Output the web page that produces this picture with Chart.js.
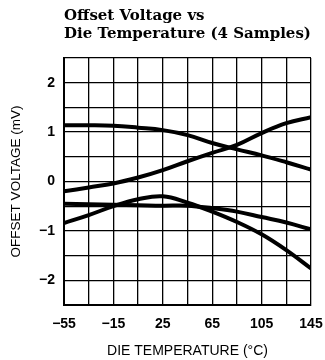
<!DOCTYPE html>
<html>
<head>
<meta charset="utf-8">
<script src="https://cdn.jsdelivr.net/npm/chart.js@4/dist/chart.umd.min.js"></script>
<style>
html,body{margin:0;padding:0;background:#fff;}
#wrap{position:relative;width:325px;height:360px;}
</style>
</head>
<body>
<div id="wrap"><canvas id="c" width="325" height="360"></canvas></div>
<script>
// ---- data ----
const titleLines = ['Offset Voltage vs', 'Die Temperature (4 Samples)'];
const xTitle = 'DIE TEMPERATURE (°C)';
const yTitle = 'OFFSET VOLTAGE (mV)';
const temps = [-55, -35, -15, 5, 25, 45, 65, 85, 105, 125, 145];
const sampleA = [1.14, 1.14, 1.13, 1.09, 1.04, 0.94, 0.78, 0.65, 0.53, 0.39, 0.24];
const sampleB = [-0.20, -0.12, -0.04, 0.08, 0.23, 0.41, 0.58, 0.74, 0.98, 1.18, 1.30];
const sampleC = [-0.84, -0.68, -0.50, -0.36, -0.30, -0.43, -0.61, -0.82, -1.07, -1.39, -1.76];
const sampleD = [-0.45, -0.46, -0.47, -0.48, -0.49, -0.49, -0.54, -0.61, -0.72, -0.83, -0.97];
const xGridValues = [-55, -35, -15, 5, 25, 45, 65, 85, 105, 125, 145];
const xTickLabels = [-55, -15, 25, 65, 105, 145];
const yGridValues = [-2.5, -2, -1.5, -1, -0.5, 0, 0.5, 1, 1.5, 2, 2.5];
const yTickLabels = [-2, -1, 0, 1, 2];

const fmt = v => String(v).replace('-', '\u2212');
const mk = arr => temps.map((t, i) => ({x: t, y: arr[i]}));

const titlePlugin = {
  id: 'titleLeft',
  afterDraw(chart) {
    const ctx = chart.ctx;
    ctx.save();
    ctx.fillStyle = '#000';
    ctx.font = 'bold 15px "DejaVu Serif", serif';
    ctx.textBaseline = 'alphabetic';
    ctx.textAlign = 'left';
    ctx.fillText(titleLines[0], chart.chartArea.left, 20);
    ctx.fillText(titleLines[1], chart.chartArea.left, 38);
    ctx.restore();
  }
};

const ds = (d) => ({
  data: mk(d), borderColor: '#000', borderWidth: 4, pointRadius: 0,
  tension: 0.4, fill: false
});

new Chart(document.getElementById('c'), {
  type: 'line',
  data: { datasets: [ds(sampleA), ds(sampleB), ds(sampleC), ds(sampleD)] },
  options: {
    responsive: false, animation: false,
    layout: { padding: { top: 58, right: 0, left: 0, bottom: 0 } },
    plugins: { legend: { display: false }, tooltip: { enabled: false } },
    scales: {
      x: {
        type: 'linear', min: -55, max: 145,
        afterBuildTicks: s => { s.ticks = xGridValues.map(v => ({value: v})); },
        afterFit: s => { s.height = 55; s.paddingRight = 14; },
        grid: { color: '#000', lineWidth: 1.3, drawTicks: false },
        border: { color: '#000', width: 2 },
        ticks: {
          autoSkip: false, maxRotation: 0, padding: 11, color: '#000',
          font: { family: '"Liberation Sans", Arial, sans-serif', size: 14, weight: 'bold' },
          callback: v => xTickLabels.includes(v) ? fmt(v) : ''
        },
        title: {
          display: true, text: xTitle, color: '#000',
          font: { family: '"Liberation Sans", Arial, sans-serif', size: 14 },
          padding: { top: 7, bottom: 0 }
        }
      },
      y: {
        type: 'linear', min: -2.5, max: 2.5,
        afterBuildTicks: s => { s.ticks = yGridValues.map(v => ({value: v})); },
        afterFit: s => { s.width = 64; },
        grid: { color: '#000', lineWidth: 1.3, drawTicks: false },
        border: { color: '#000', width: 2 },
        ticks: {
          autoSkip: false, padding: 9, color: '#000',
          font: { family: '"Liberation Sans", Arial, sans-serif', size: 14, weight: 'bold' },
          callback: v => yTickLabels.includes(v) ? fmt(v) : ''
        },
        title: {
          display: true, text: yTitle, color: '#000',
          font: { family: '"Liberation Sans", Arial, sans-serif', size: 13.5 },
          padding: { top: 8, bottom: 0 }
        }
      }
    }
  },
  plugins: [titlePlugin]
});
</script>
</body>
</html>
